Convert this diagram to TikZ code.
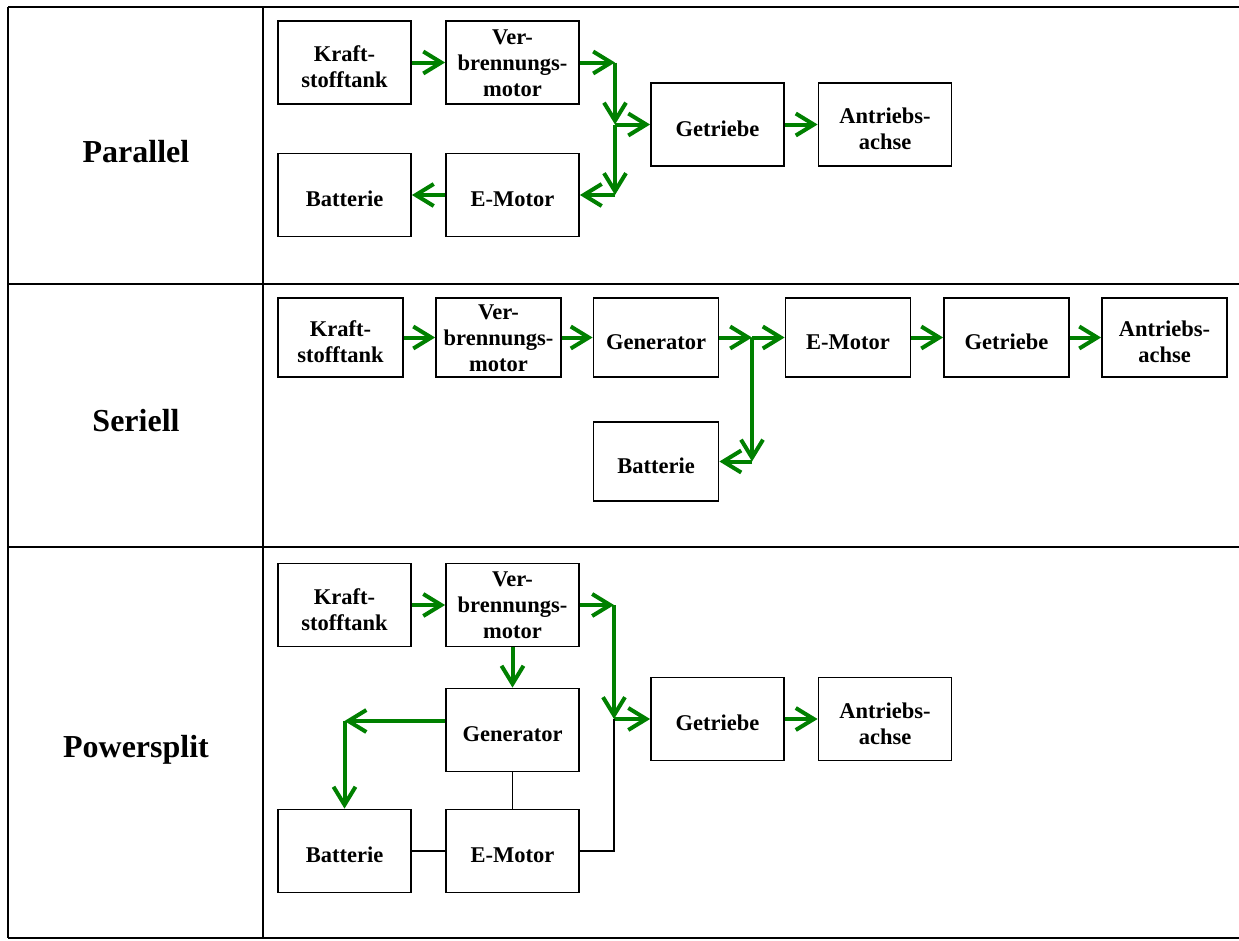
\documentclass[tikz,border=0pt]{standalone}
\usepackage{fontspec}
\setmainfont{Liberation Serif}
\usetikzlibrary{arrows.meta}
\usetikzlibrary{positioning}

\begin{document}
\begin{tikzpicture}[
    x=1pt, y=-1pt,
    font=\bfseries\fontsize{22.5}{26}\selectfont
]
\tikzset{
    mynode/.style = {rectangle, draw=black, line width=1.8pt, align=center,
        inner sep=0pt, text height=24pt, minimum width=133pt, minimum height=83pt},
    mynodes/.style = {mynode, minimum width=125pt, minimum height=79pt},
    twoline/.style = {text height=50.5pt},
    threeline/.style = {text height=67.5pt},
    rowlabel/.style = {font=\bfseries\fontsize{32}{36}\selectfont},
    edgen/.style = {-{Straight Barb[length=18pt,width=22pt]},line width=4pt,
        green!50!black},
    edgel/.style = {line width=1.8pt,black},
    tabline/.style = {line width=2.4pt,black}
}
\useasboundingbox (0,0) rectangle (1239,940);
% table
\draw[tabline] (8,7) -- (1239,7);
\draw[tabline] (8,284) -- (1239,284);
\draw[tabline] (8,547) -- (1239,547);
\draw[tabline] (8,938) -- (1239,938);
\draw[tabline] (8,7) -- (8,938);
\draw[tabline] (263,7) -- (263,938);
\node[rowlabel] (lp) at (136,152) {Parallel};
\node[rowlabel] (ls) at (136,421) {Seriell};
\node[rowlabel] (lw) at (136,750) {Powersplit};
% parallel
\node[mynode,twoline] at (344.5,62.5) (pk) {Kraft-\\stofftank};
\node[mynode,threeline] at (512.5,62.5) (pv) {Ver-\\brennungs-\\motor};
\node[mynode] at (717.5,124.5) (pt) {Getriebe};
\node[mynode,twoline] at (885,124.5) (pa) {Antriebs-\\achse};
\node[mynode] at (344.5,195) (pb) {Batterie};
\node[mynode] at (512.5,195) (pe) {E-Motor};
\coordinate (pj1) at (615,62.5);
\coordinate (pj2) at (615,124.5);
\coordinate (pj3) at (615,195);
\draw[edgen] (pk) -- (pv);
\draw[edgen] (pv) -- (pj1);
\draw[edgen] (pj1) -- (pj2);
\draw[edgen] (pj2) -- (pt);
\draw[edgen] (pj2) -- (pj3);
\draw[edgen] (pj3) -- (pe);
\draw[edgen] (pe) -- (pb);
\draw[edgen] (pt) -- (pa);
% seriell
\node[mynodes,twoline] at (340.5,337.5) (sk) {Kraft-\\stofftank};
\node[mynodes,threeline] at (498.5,337.5) (sv) {Ver-\\brennungs-\\motor};
\node[mynodes] at (656,337.5) (sg) {Generator};
\node[mynodes] at (848,337.5) (se) {E-Motor};
\node[mynodes] at (1006.5,337.5) (st) {Getriebe};
\node[mynodes,twoline] at (1164.5,337.5) (sa) {Antriebs-\\achse};
\node[mynodes] at (656,461.5) (sb) {Batterie};
\coordinate (sj1) at (752,337.5);
\coordinate (sj2) at (752,461.5);
\draw[edgen] (sk) -- (sv);
\draw[edgen] (sv) -- (sg);
\draw[edgen] (sg) -- (sj1);
\draw[edgen] (sj1) -- (se);
\draw[edgen] (sj1) -- (sj2);
\draw[edgen] (sj2) -- (sb);
\draw[edgen] (se) -- (st);
\draw[edgen] (st) -- (sa);
% powersplit
\node[mynode,twoline] at (344.5,605) (wk) {Kraft-\\stofftank};
\node[mynode,threeline] at (512.5,605) (wv) {Ver-\\brennungs-\\motor};
\node[mynode] at (512.5,730) (wg) {Generator};
\node[mynode] at (344.5,851) (wb) {Batterie};
\node[mynode] at (512.5,851) (we) {E-Motor};
\node[mynode] at (717.5,719) (wt) {Getriebe};
\node[mynode,twoline] at (885,719) (wa) {Antriebs-\\achse};
\coordinate (wj1) at (614,605);
\coordinate (wj2) at (614,719);
\coordinate (wj3) at (344.5,721);
\draw[edgen] (wk) -- (wv);
\draw[edgen] (wv) -- (wj1);
\draw[edgen] (wj1) -- (wj2);
\draw[edgen] (wj2) -- (wt);
\draw[edgen] (wt) -- (wa);
\draw[edgen] (wv) -- (wg);
\draw[edgen] (wg.west |- wj3) -- (wj3);
\draw[edgen] (wj3) -- (wb);
\draw[edgel] (wg) -- (we);
\draw[edgel] (wb) -- (we);
\draw[edgel] (we) -| (wj2);
\end{tikzpicture}
\end{document}
